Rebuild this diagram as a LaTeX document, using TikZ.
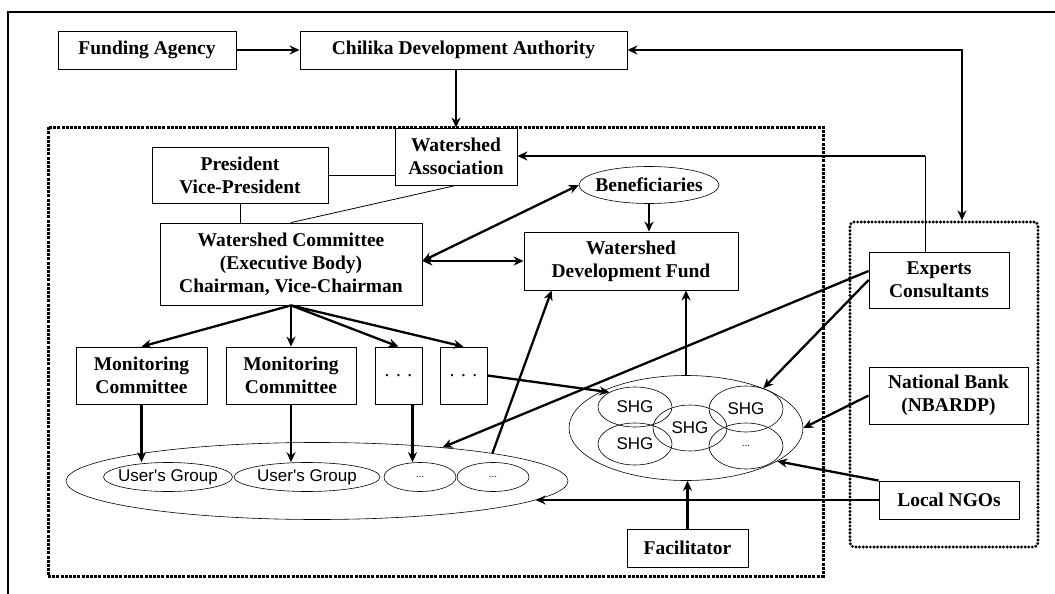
\documentclass[tikz,border=0pt]{standalone}
\usepackage{fontspec}
\setmainfont{Liberation Serif}
\newfontfamily\grpfont{Liberation Sans}
\usetikzlibrary{shapes.geometric, arrows.meta, calc}

\tikzset{
  box/.style={draw, line width=0.8pt, align=center, inner sep=2pt,
    font=\bfseries\fontsize{19.5}{23}\selectfont},
  grp/.style={ellipse, draw, line width=0.6pt, inner sep=0pt,
    font=\grpfont\fontsize{17}{20}\selectfont},
  link/.style={line width=2.3pt, -{Stealth[length=10pt,width=9pt]}},
  twoway/.style={line width=2.3pt, {Stealth[length=10pt,width=9pt]}-{Stealth[length=10pt,width=9pt]}},
  tie/.style={line width=0.8pt},
  dotbox/.style={draw, line width=3pt, dash pattern=on 3pt off 1.2pt},
  dotbox2/.style={draw, line width=3.2pt, dash pattern=on 0pt off 3.6pt, line cap=round, rounded corners=4pt},
}

\begin{document}
\begin{tikzpicture}[x=1pt, y=-1pt]
        \useasboundingbox (0,0) rectangle (1055,594);
        \draw [line width=1.8pt] (8,594) -- (8,12) -- (1055,12);
        \node [dotbox, minimum width=775pt, minimum height=449pt] (inner) at (435.5,351.5) {};
        \node [dotbox2, minimum width=188pt, minimum height=325pt] (outside) at (944,384.5) {};

        \node [box, minimum width=178pt, minimum height=38pt] (fund) at (147,50) {Funding Agency};
        \node [box, minimum width=327pt, minimum height=38pt] (cda) at (463.5,50) {Chilika Development Authority};
        \node [box, minimum width=122pt, minimum height=57pt] (wa) at (456,156.5) {Watershed\\Association};
        \node [box, minimum width=176pt, minimum height=56pt] (pres) at (240,175) {President\\Vice-President};
        \node [box, minimum width=262pt, minimum height=82pt] (wc) at (291,264) {Watershed Committee\\(Executive Body)\\Chairman, Vice-Chairman};
        \node [box, ellipse, draw, line width=0.6pt, inner sep=0pt, minimum width=140pt, minimum height=37pt] (ben) at (649,185) {\makebox[0pt]{Beneficiaries}};
        \node [box, minimum width=214pt, minimum height=58pt] (wdf) at (631,261) {Watershed\\Development Fund};
        \node [box, minimum width=131pt, minimum height=57pt] (mc1) at (141.5,375.5) {Monitoring\\Committee};
        \node [box, minimum width=130pt, minimum height=57pt] (mc2) at (291,375.5) {Monitoring\\Committee};
        \node [box, minimum width=47pt, minimum height=57pt] (d1) at (398.5,375.5) {\mdseries. . .};
        \node [box, minimum width=47pt, minimum height=57pt] (d2) at (463.5,375.5) {\mdseries. . .};

        \node [grp, minimum width=502pt, minimum height=77pt] (ugall) at (317,481) {};
        \node [grp, minimum width=129pt, minimum height=29pt] (ug1) at (168,477) {\makebox[0pt]{User's Group}};
        \node [grp, minimum width=146pt, minimum height=29pt] (ug2) at (307,477) {\makebox[0pt]{User's Group}};
        \node [grp, minimum width=72pt, minimum height=29pt] (ug3) at (420,477) {\fontsize{10}{12}\selectfont...};
        \node [grp, minimum width=72pt, minimum height=29pt] (ug4) at (493,477) {\fontsize{10}{12}\selectfont...};

        \node [grp, minimum width=234pt, minimum height=105pt] (shgall) at (686,428) {};
        \node [grp, minimum width=74pt, minimum height=40pt] (shg1) at (635,407) {SHG};
        \node [grp, minimum width=74pt, minimum height=42pt] (shg2) at (635,444) {SHG};
        \node [grp, minimum width=74pt, minimum height=46pt] (shg3) at (690,428) {SHG};
        \node [grp, minimum width=74pt, minimum height=46pt] (shg4) at (746,409) {SHG};
        \node [grp, minimum width=74pt, minimum height=46pt] (shg5) at (746,446) {\fontsize{10}{12}\selectfont...};

        \node [box, minimum width=140pt, minimum height=56pt] (exp) at (939,280) {Experts\\Consultants};
        \node [box, minimum width=159pt, minimum height=57pt] (nb) at (948.5,395.5) {National Bank\\(NBARDP)};
        \node [box, minimum width=140pt, minimum height=38pt] (ngo) at (949,500) {Local NGOs};
        \node [box, minimum width=121pt, minimum height=38pt] (fac) at (687.5,548) {Facilitator};

        \coordinate (bend) at (925,156);

        \draw [link] (fund) -- (cda);
        \draw [link] (cda.south -| wa.north) -- (wa.north);
        \draw [twoway] (cda.east) -| ([xshift=18pt]outside.north);
        \draw [tie] ([xshift=-14pt]exp.north) -- (bend);
        \draw [link] (bend) -- (bend -| wa.east);
        \draw [tie] (pres.east) -- (pres.east -| wa.west);
        \draw [tie] (pres.south) -- (pres.south |- wc.north);
        \draw [tie] (wa.south) -- (wc.north);
        \draw [twoway] (wdf.west -| wc.east) -- (wdf.west);
        \draw [twoway] (wdf.west -| wc.east) -- (ben.west);
        \draw [link] (ben.south) -- (ben.south |- wdf.north);
        \foreach \t in {mc1, mc2, d1, d2}
            \draw [link] (wc.south) -- (\t.north);
        \draw [link] (mc1.south) -- (mc1.south |- ug1.north);
        \draw [link] (mc2.south) -- (mc2.south |- ug2.north);
        \draw [link] ([xshift=14pt]d1.south) -- ([xshift=14pt]d1.south |- ug3.north);
        \draw [link] (d2.east) -- (shg1.150);
        \draw [link] ([yshift=9pt]exp.west) -- (ugall.15);
        \draw [link] (ugall.9) -- ([xshift=28pt]wdf.south west);
        \draw [link] (shgall.north) -- (shgall.north |- wdf.south);
        \draw [link] (exp.west) -- (shg4.50);
        \draw [link] (nb.west) -- (shgall.east);
        \draw [link] (ngo.north west) -- (shgall.-20);
        \draw [link] (ngo.west) -- (ngo.west -| ugall.-5);
        \draw [link] (fac.north) -- (fac.north |- shgall.south);
\end{tikzpicture}
\end{document}
